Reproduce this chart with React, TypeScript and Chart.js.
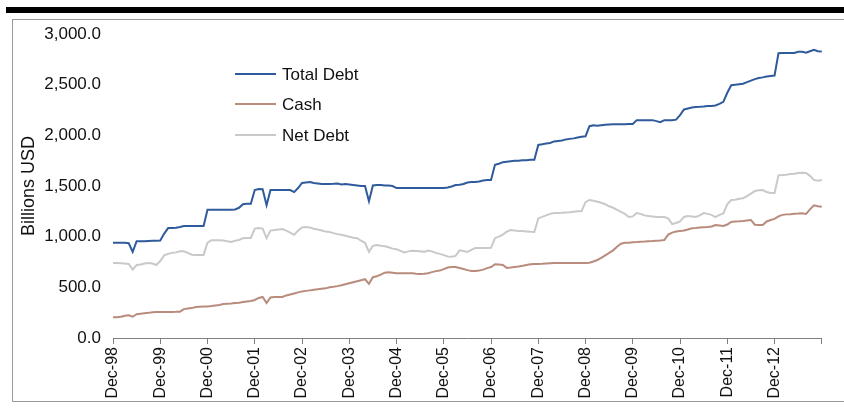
import React, { useEffect, useRef } from "react";
import { Chart, registerables } from "chart.js";

Chart.register(...registerables);

const tickLabels = [
  "Dec-98", "Dec-99", "Dec-00", "Dec-01", "Dec-02", "Dec-03", "Dec-04",
  "Dec-05", "Dec-06", "Dec-07", "Dec-08", "Dec-09", "Dec-10", "Dec-11", "Dec-12",
];

const monthNames = ["Jan", "Feb", "Mar", "Apr", "May", "Jun", "Jul", "Aug", "Sep", "Oct", "Nov", "Dec"];

const totalDebt = [
  940, 940, 940, 940, 935, 850, 955, 955, 955, 958, 960, 960,
  962, 1030, 1085, 1085, 1088, 1095, 1105, 1105, 1105, 1105, 1105, 1105,
  1265, 1265, 1265, 1265, 1265, 1265, 1265, 1268, 1285, 1320, 1325, 1325,
  1460, 1470, 1468, 1310, 1460, 1460, 1460, 1460, 1460, 1460, 1440, 1480,
  1530, 1535, 1540, 1530, 1525, 1520, 1520, 1520, 1522, 1525, 1515, 1520,
  1515, 1510, 1505, 1500, 1500, 1350, 1505, 1510, 1510, 1505, 1505, 1500,
  1480, 1480, 1480, 1480, 1480, 1480, 1480, 1480, 1480, 1480, 1480, 1480,
  1480, 1485, 1495, 1510, 1512, 1520, 1535, 1540, 1540, 1545, 1555, 1560,
  1560, 1710, 1720, 1735, 1740, 1745, 1748, 1750, 1755, 1755, 1760, 1760,
  1905, 1912, 1920, 1925, 1940, 1945, 1950, 1960, 1965, 1970, 1978, 1985,
  1990, 2090, 2100, 2095, 2100, 2105, 2108, 2110, 2110, 2110, 2110, 2112,
  2112, 2150, 2150, 2150, 2150, 2150, 2140, 2130, 2150, 2150, 2150, 2155,
  2200, 2255, 2265, 2275, 2280, 2282, 2285, 2290, 2290, 2295, 2310, 2330,
  2420, 2495, 2500, 2505, 2510, 2525, 2540, 2555, 2565, 2572, 2580, 2585,
  2590, 2810, 2812, 2812, 2812, 2812, 2825, 2825, 2815, 2830, 2845, 2830,
  2828,
];

const cash = [
  205, 205, 210, 220, 225, 210, 235, 240, 245, 248, 255, 257,
  257, 257, 257, 257, 258, 260, 285, 290, 295, 305, 308, 310,
  312, 315, 320, 325, 335, 338, 340, 345, 348, 355, 360, 365,
  375, 395, 405, 345, 400, 405, 405, 405, 420, 430, 440, 450,
  460, 465, 470, 475, 480, 485, 490, 500, 505, 512, 520, 530,
  540, 550, 560, 570, 580, 535, 600, 610, 625, 645, 650, 645,
  640, 640, 640, 640, 640, 635, 632, 635, 640, 650, 660, 665,
  680, 695, 700, 700, 690, 680, 670, 662, 662, 665, 675, 690,
  700, 728, 725, 720, 692, 695, 700, 705, 712, 720, 728, 730,
  730, 732, 735, 738, 740, 740, 740, 740, 740, 740, 740, 740,
  740, 742, 755, 770, 790, 815, 840, 865, 900, 930, 940, 940,
  945, 947, 950, 952, 955, 957, 960, 962, 967, 1020, 1040, 1050,
  1056, 1060, 1070, 1082, 1085, 1090, 1093, 1095, 1100, 1115, 1110, 1105,
  1120, 1145, 1150, 1152, 1155, 1160, 1165, 1118, 1115, 1115, 1150, 1165,
  1175, 1200, 1215, 1220, 1222, 1225, 1228, 1232, 1225, 1270, 1310, 1300,
  1295,
];

const netDebt = [
  740, 740, 738, 735, 730, 675, 720, 725, 735, 740, 735, 720,
  760, 815, 830, 840, 845, 855, 855, 840, 822, 820, 820, 820,
  940, 965, 965, 965, 962, 955, 948, 960, 967, 985, 987, 987,
  1080, 1085, 1080, 985, 1060, 1066, 1070, 1076, 1060, 1040, 1018, 1060,
  1090, 1095, 1090, 1078, 1070, 1060, 1050, 1046, 1035, 1025, 1018, 1010,
  1000, 990, 985, 960, 940, 850, 910, 918, 910, 905, 895, 882,
  875, 860, 845, 855, 860, 858, 855, 850, 862, 855, 840, 830,
  818, 805, 802, 810, 865, 858, 850, 870, 888, 888, 888, 888,
  890, 985, 1000, 1020, 1050, 1066, 1060, 1056, 1056, 1052, 1048, 1046,
  1180, 1195, 1210, 1225, 1233, 1233, 1235, 1238, 1240, 1245, 1250, 1253,
  1340, 1362, 1355, 1345, 1335, 1320, 1300, 1285, 1265, 1245, 1225, 1194,
  1200, 1233, 1225, 1210, 1204, 1200, 1195, 1194, 1194, 1180, 1125, 1135,
  1150, 1195, 1204, 1200, 1195, 1210, 1233, 1225, 1215, 1194, 1215, 1230,
  1320, 1362, 1365, 1375, 1380, 1400, 1425, 1450, 1458, 1460, 1440, 1430,
  1430, 1605, 1608, 1612, 1618, 1620, 1628, 1630, 1628, 1600, 1560, 1552,
  1560,
];

// monthly categories starting Dec-98
const categories: string[] = totalDebt.map((_, i) => {
  const m = (11 + i) % 12;
  const y = 1998 + Math.floor((11 + i) / 12);
  return monthNames[m] + "-" + String(y % 100).padStart(2, "0");
});

const FONT = "'Liberation Sans', Arial, sans-serif";

const insideLegend = {
  id: "insideLegend",
  afterDraw(chart: any) {
    const ctx = chart.ctx;
    const rows = [74, 104, 135];
    ctx.save();
    chart.data.datasets.forEach((ds: any, i: number) => {
      const y = rows[i];
      ctx.strokeStyle = ds.borderColor;
      ctx.lineWidth = 2;
      ctx.beginPath();
      ctx.moveTo(235, y);
      ctx.lineTo(276, y);
      ctx.stroke();
      ctx.fillStyle = "#111";
      ctx.font = "17px " + FONT;
      ctx.textBaseline = "middle";
      ctx.textAlign = "left";
      ctx.fillText(ds.label, 282, y + 1);
    });
    ctx.restore();
  },
};

export default function App() {
  const ref = useRef<HTMLCanvasElement | null>(null);

  useEffect(() => {
    if (!ref.current) return;
    const chart = new Chart(ref.current, {
      type: "line",
      data: {
        labels: categories,
        datasets: [
          { label: "Total Debt", data: totalDebt, borderColor: "#2f5a9b", borderWidth: 2, pointRadius: 0, tension: 0 },
          { label: "Cash", data: cash, borderColor: "#b98b7c", borderWidth: 2, pointRadius: 0, tension: 0 },
          { label: "Net Debt", data: netDebt, borderColor: "#c9c9c9", borderWidth: 2, pointRadius: 0, tension: 0 },
        ],
      },
      options: {
        animation: false,
        responsive: false,
        layout: { padding: { left: 14, right: 18, top: 34, bottom: 0 } },
        plugins: { legend: { display: false }, tooltip: { enabled: false } },
        scales: {
          x: {
            type: "category",
            offset: false,
            afterFit: (s: any) => { s.height = 71; },
            grid: {
              drawOnChartArea: false,
              drawTicks: true,
              tickLength: 6,
              color: (c: any) => (c.index % 12 === 0 ? "#7f7f7f" : "rgba(0,0,0,0)"),
            },
            border: { display: true, color: "#7f7f7f", width: 1 },
            ticks: {
              autoSkip: false,
              maxRotation: 90,
              minRotation: 90,
              padding: 3,
              color: "#111",
              font: { family: FONT, size: 16 },
              callback: (_v: any, i: number) => (i % 12 === 0 && i / 12 < tickLabels.length ? tickLabels[i / 12] : ""),
            },
          },
          y: {
            min: 0,
            max: 3000,
            afterFit: (s: any) => { s.width = 99; },
            grid: { display: false },
            border: { display: false },
            ticks: {
              stepSize: 500,
              padding: 4,
              color: "#111",
              font: { family: FONT, size: 17 },
              callback: (v: any) =>
                Number(v).toLocaleString("en-US", { minimumFractionDigits: 1, maximumFractionDigits: 1 }),
            },
            title: {
              display: true,
              text: "Billions USD",
              color: "#111",
              font: { family: FONT, size: 18 },
              padding: { top: 4, bottom: 4 },
            },
          },
        },
      },
      plugins: [insideLegend],
    });
    return () => chart.destroy();
  }, []);

  return (
    <div style={{ position: "absolute", left: 0, top: 0, width: 844, height: 409, background: "#fff", overflow: "hidden" }}>
      <div style={{ position: "absolute", left: 6, top: 7, right: 0, height: 6, background: "#000" }} />
      <div
        style={{
          position: "absolute",
          left: 12,
          top: 19,
          width: 840,
          height: 381,
          borderLeft: "1px solid #9a9a9a",
          borderTop: "1px solid #9a9a9a",
          borderBottom: "1px solid #9a9a9a",
        }}
      />
      <canvas ref={ref} width={844} height={409} style={{ position: "absolute", left: 0, top: 0, width: 844, height: 409 }} />
    </div>
  );
}
